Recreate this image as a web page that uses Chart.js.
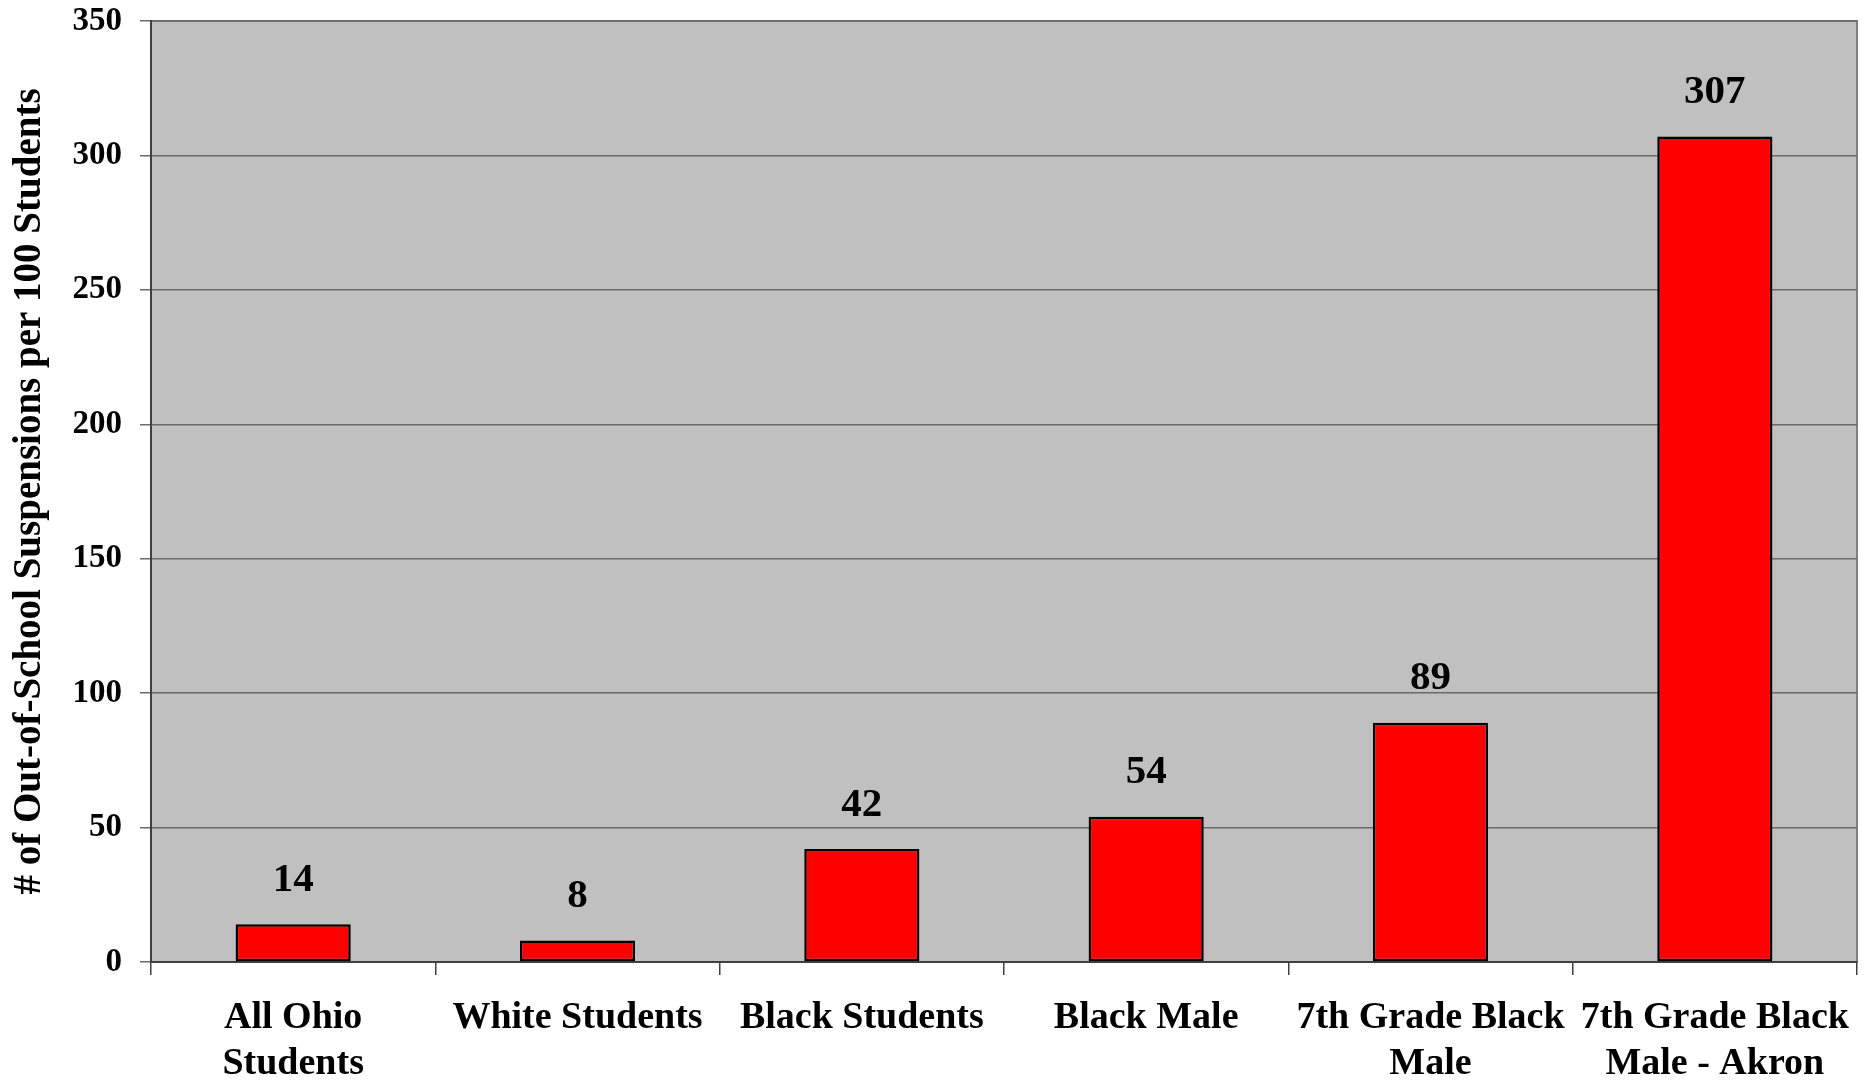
<!DOCTYPE html>
<html>
<head>
<meta charset="utf-8">
<script src="https://cdn.jsdelivr.net/npm/chart.js@4"></script>
<style>
  body { margin: 0; background: #fff; }
</style>
</head>
<body>
<canvas id="suspensionsChart" width="1864" height="1083"></canvas>
<script>
/* ================= DATA ================= */
const categories = [
    ['All Ohio', 'Students'],
    'White Students',
    'Black Students',
    'Black Male',
    ['7th Grade Black', 'Male'],
    ['7th Grade Black', 'Male - Akron']
];
const suspensionsPer100 = [14, 8, 42, 54, 89, 307];
const yTicks = [0, 50, 100, 150, 200, 250, 300, 350];

const serif = '"Liberation Serif", "Times New Roman", serif';

/* ================= PLUGINS ================= */
const plotBackground = {
    id: 'plotBackground',
    beforeDraw(chart) {
        const { ctx, chartArea: a } = chart;
        ctx.save();
        ctx.fillStyle = '#c0c0c0';
        ctx.fillRect(a.left, a.top, a.right - a.left, a.bottom - a.top);
        ctx.strokeStyle = '#808080';
        ctx.lineWidth = 2;
        ctx.strokeRect(a.left, a.top, a.right - a.left, a.bottom - a.top);
        ctx.restore();
    }
};

const valueLabels = {
    id: 'valueLabels',
    afterDatasetsDraw(chart) {
        const { ctx } = chart;
        const meta = chart.getDatasetMeta(0);
        ctx.save();
        ctx.font = 'bold 41px ' + serif;
        ctx.fillStyle = '#000';
        ctx.textAlign = 'center';
        ctx.textBaseline = 'middle';
        meta.data.forEach((bar, i) => {
            ctx.fillText(String(suspensionsPer100[i]), bar.x, bar.y - 44);
        });
        ctx.restore();
    }
};

/* ================= CHART ================= */
new Chart(document.getElementById('suspensionsChart'), {
    type: 'bar',
    data: {
        labels: categories,
        datasets: [{
            data: suspensionsPer100,
            backgroundColor: '#ff0000',
            borderColor: '#000',
            borderWidth: 2.5,
            borderSkipped: false,
            categoryPercentage: 1,
            barPercentage: 0.405
        }]
    },
    options: {
        responsive: false,
        animation: false,
        layout: { padding: { top: 21, right: 7, left: 0, bottom: 0 } },
        plugins: {
            legend: { display: false },
            tooltip: { enabled: false }
        },
        scales: {
            x: {
                grid: {
                    offset: true,
                    drawOnChartArea: false,
                    tickLength: 13,
                    color: '#404040',
                    lineWidth: 1.5
                },
                border: { color: '#404040', width: 2 },
                ticks: {
                    color: '#000',
                    padding: 20,
                    maxRotation: 0,
                    autoSkip: false,
                    font: { family: serif, size: 38, weight: 'bold', lineHeight: 1.22 }
                },
                afterFit(scale) {
                    scale.height = 121;
                    scale.paddingLeft = 0;
                    scale.paddingRight = 0;
                }
            },
            y: {
                min: 0,
                max: 350,
                afterBuildTicks(scale) {
                    scale.ticks = yTicks.map(v => ({ value: v }));
                },
                grid: {
                    color: '#6a6a6a',
                    lineWidth: 1.5,
                    tickLength: 11
                },
                border: { color: '#404040', width: 2 },
                ticks: {
                    color: '#000',
                    padding: 18,
                    font: { family: serif, size: 33, weight: 'bold' }
                },
                title: {
                    display: true,
                    text: '# of Out-of-School Suspensions per 100 Students',
                    color: '#000',
                    padding: { top: 7, bottom: 0 },
                    font: { family: serif, size: 39, weight: 'bold' }
                },
                afterFit(scale) {
                    scale.width = 151;
                    scale.paddingTop = 0;
                    scale.paddingBottom = 0;
                }
            }
        }
    },
    plugins: [plotBackground, valueLabels]
});
</script>
</body>
</html>
